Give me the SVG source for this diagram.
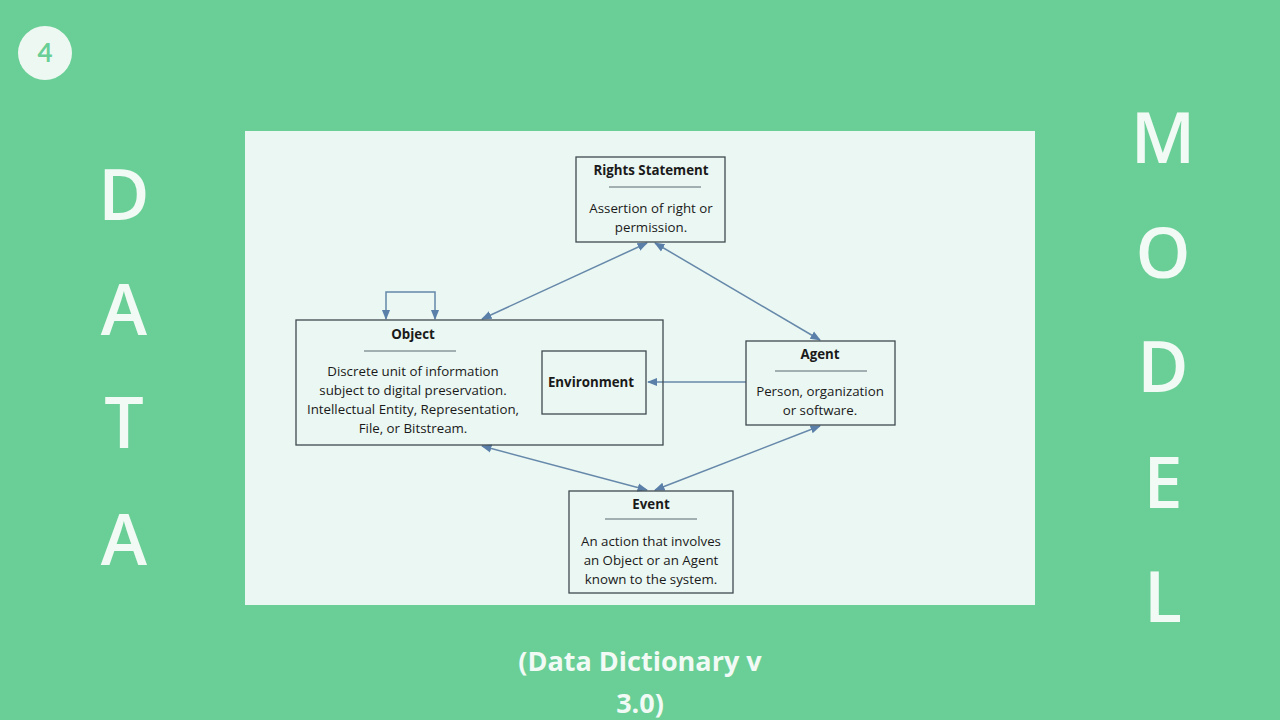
<svg xmlns="http://www.w3.org/2000/svg" width="1280" height="720" viewBox="0 0 1280 720">
<style>
.box{fill:none;stroke:#404a50;stroke-width:1.3}
.t{font-family:"Open Sans","Liberation Sans",sans-serif;font-size:13.3px;fill:#1a1a1a;text-anchor:middle}
.b{font-weight:bold}
.sep{stroke:#5b6870;stroke-width:1}
.c{stroke:#6688aa;stroke-width:1.5;fill:none}
.big{font-family:"Open Sans","Liberation Sans",sans-serif;font-weight:600;font-size:70px;fill:#f2faf5;text-anchor:middle}
</style>
<defs>
<marker id="a" viewBox="0 0 10 10" refX="9" refY="5" markerWidth="7" markerHeight="7" orient="auto-start-reverse"><path d="M0,1L10,5L0,9z" fill="#5a7fa8"/></marker>
</defs>
<rect width="1280" height="720" fill="#6acf96"/>
<circle cx="45" cy="53" r="27" fill="#eef8f2"/>
<text x="45" y="62" font-family="Lato,'Liberation Sans',sans-serif" font-weight="bold" font-size="26" fill="#6acf96" text-anchor="middle">4</text>
<g class="big">
<text x="124" y="220">D</text><text x="124" y="335">A</text><text x="124" y="448">T</text><text x="124" y="565">A</text>
<text x="1163" y="163">M</text><text x="1163" y="278">O</text><text x="1163" y="392">D</text><text x="1163" y="508">E</text><text x="1163" y="622">L</text>
</g>
<text x="640" y="671" font-family="'Open Sans','Liberation Sans',sans-serif" font-weight="bold" font-size="27" fill="#f2faf5" text-anchor="middle">(Data Dictionary v</text>
<text x="640" y="713" font-family="'Open Sans','Liberation Sans',sans-serif" font-weight="bold" font-size="27" fill="#f2faf5" text-anchor="middle">3.0)</text>
<rect x="245" y="131" width="790" height="474" fill="#eaf7f2"/>
<g id="connectors">
<path class="c" d="M482,319L647,243" marker-start="url(#a)" marker-end="url(#a)"/>
<path class="c" d="M655,243L820,340" marker-start="url(#a)" marker-end="url(#a)"/>
<path class="c" d="M746,382L648,382" marker-end="url(#a)"/>
<path class="c" d="M482,446L647,490" marker-start="url(#a)" marker-end="url(#a)"/>
<path class="c" d="M655,490L820,426" marker-start="url(#a)" marker-end="url(#a)"/>
<path class="c" d="M386,319V292H435V319" marker-start="url(#a)" marker-end="url(#a)"/>
</g>
<g id="rights"><rect class="box" x="576" y="157" width="149" height="85"/>
<text class="t b" x="651" y="175">Rights Statement</text><line class="sep" x1="609" y1="187" x2="701" y2="187"/>
<text class="t" x="651" y="213">Assertion of right or</text><text class="t" x="651" y="232">permission.</text></g>
<g id="object"><rect class="box" x="296" y="320" width="367" height="125"/>
<text class="t b" x="413" y="339">Object</text><line class="sep" x1="364" y1="351" x2="456" y2="351"/>
<text class="t" x="413" y="376">Discrete unit of information</text><text class="t" x="413" y="395">subject to digital preservation.</text>
<text class="t" x="413" y="414">Intellectual Entity, Representation,</text><text class="t" x="413" y="433">File, or Bitstream.</text></g>
<g id="environment"><rect class="box" x="542" y="351" width="104" height="63"/>
<text class="t b" x="591" y="387">Environment</text></g>
<g id="agent"><rect class="box" x="746" y="341" width="149" height="84"/>
<text class="t b" x="820" y="359">Agent</text><line class="sep" x1="775" y1="371" x2="867" y2="371"/>
<text class="t" x="820" y="396">Person, organization</text><text class="t" x="820" y="415">or software.</text></g>
<g id="event"><rect class="box" x="569" y="491" width="164" height="102"/>
<text class="t b" x="651" y="509">Event</text><line class="sep" x1="605" y1="519" x2="697" y2="519"/>
<text class="t" x="651" y="546">An action that involves</text><text class="t" x="651" y="565">an Object or an Agent</text><text class="t" x="651" y="584">known to the system.</text></g>
</svg>
